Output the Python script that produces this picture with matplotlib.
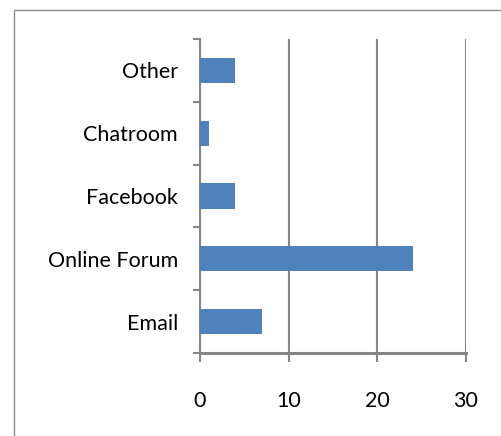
import numpy as np
import matplotlib.pyplot as plt
from matplotlib.patches import Rectangle

categories = ["Email", "Online Forum", "Facebook", "Chatroom", "Other"]
counts = [7, 24, 4, 1, 4]
xticks = [0, 10, 20, 30]

plt.rcParams["font.family"] = ["Lato", "DejaVu Sans"]

gray = "#868686"
fig = plt.figure(figsize=(5.01, 4.36), dpi=100)

# chart area frame
fig.patches.append(Rectangle((14 / 501, -0.2), 1.2, 1.2 - 10 / 436,
                             transform=fig.transFigure, fill=False,
                             edgecolor="#8c8c8c", linewidth=1.0))

ax = fig.add_axes([200 / 501, 83 / 436, 266 / 501, 314 / 436])
y = np.arange(len(categories))
ax.barh(y, counts, height=0.4, color="#4F81BD", edgecolor="none", zorder=3)

ax.set_xlim(0, 30)
ax.set_ylim(-0.5, len(categories) - 0.5)
ax.set_xticks(xticks)
ax.set_xticklabels([str(t) for t in xticks], fontsize=15.5)
ax.set_yticks(np.arange(len(categories) + 1) - 0.5)
ax.set_yticklabels([])
ax.set_yticks(y, minor=True)
ax.set_yticklabels(categories, minor=True, fontsize=15.5)

ax.tick_params(axis="y", which="major", direction="out", length=5, width=1.5, color=gray)
ax.tick_params(axis="y", which="minor", length=0, pad=16)
ax.tick_params(axis="x", direction="out", length=6.5, width=1.5, color=gray, pad=21)

ax.grid(axis="x", color=gray, linewidth=1.5, zorder=0)
for s in ("top", "right"):
    ax.spines[s].set_visible(False)
ax.spines["left"].set_color(gray)
ax.spines["left"].set_linewidth(1.5)
ax.spines["bottom"].set_color(gray)
ax.spines["bottom"].set_linewidth(2.2)
ax.spines["bottom"].set_bounds(0, 30)

fig.savefig("out.png", dpi=100)
